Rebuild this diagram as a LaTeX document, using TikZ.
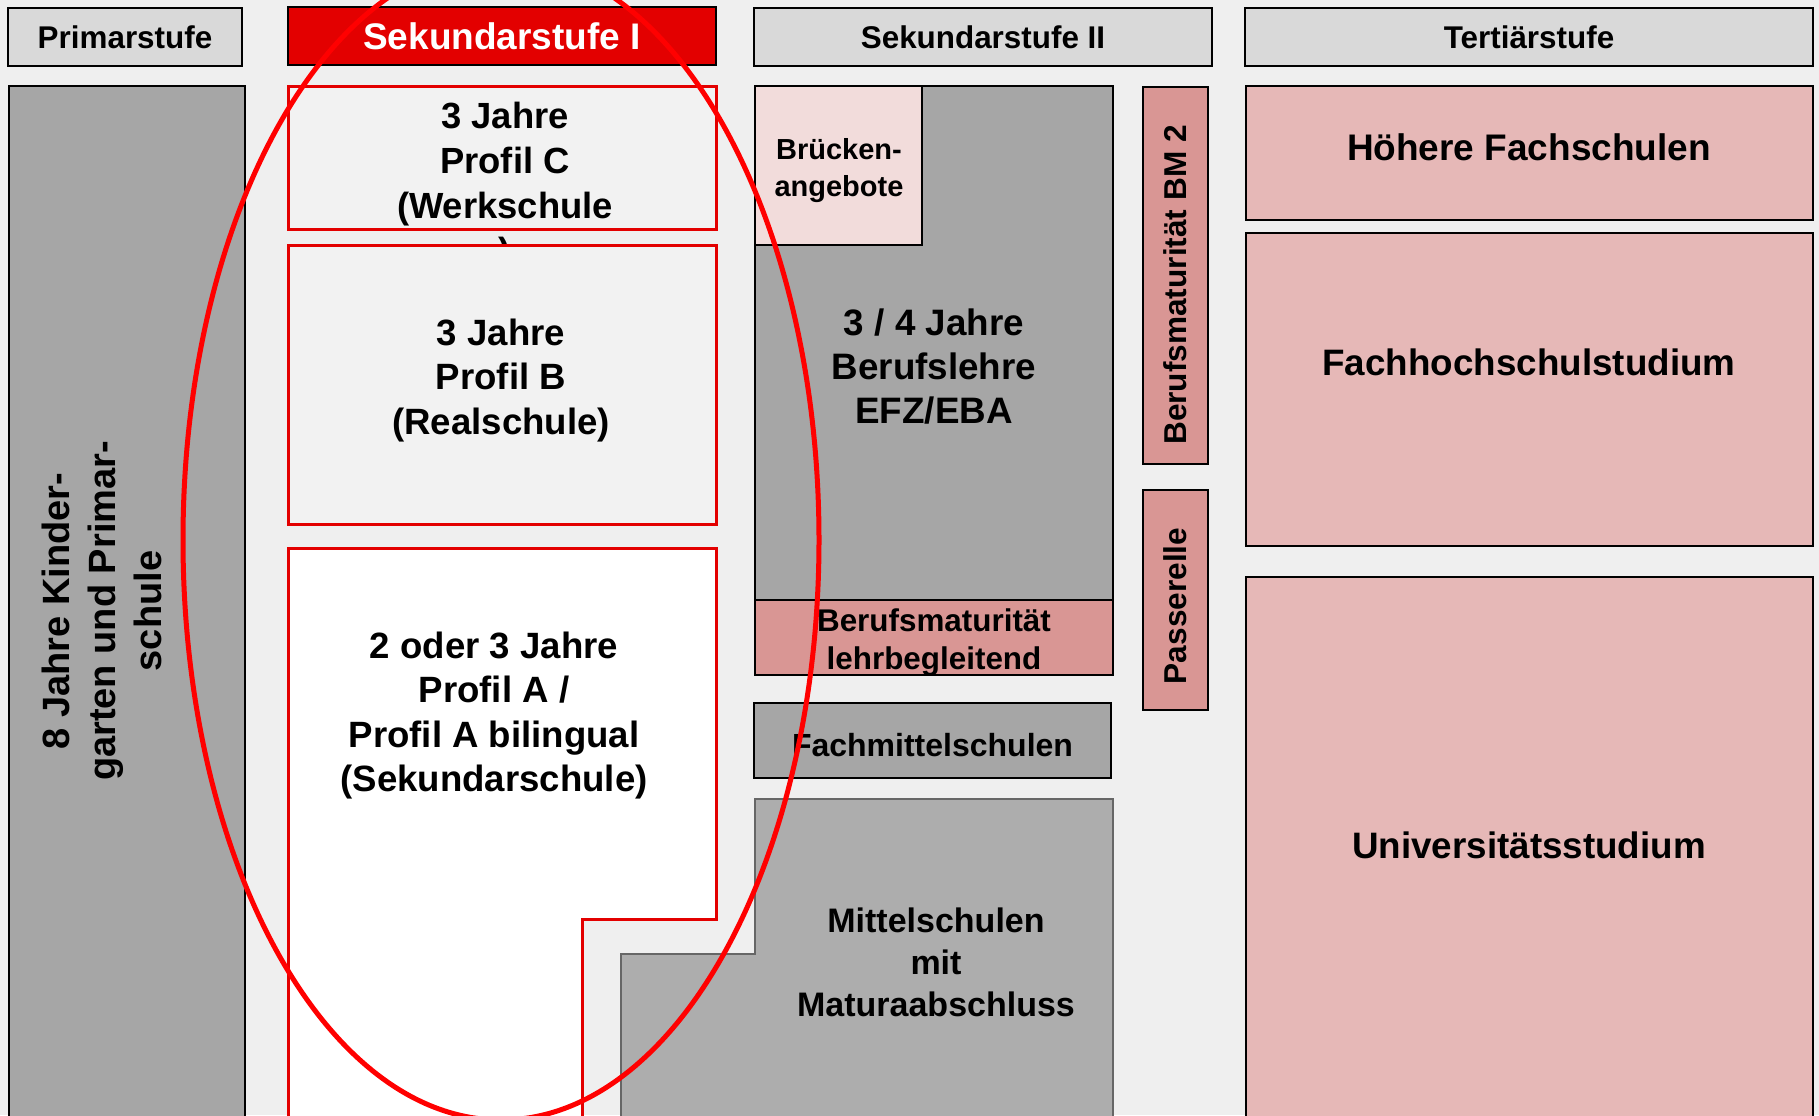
\documentclass[tikz,border=0pt]{standalone}
\usepackage{fontspec}
\setmainfont{Liberation Sans}
\usepackage{tikz}

\definecolor{bgcol}{HTML}{EFEFEF}
\definecolor{headgray}{HTML}{D9D9D9}
\definecolor{sekred}{HTML}{E30000}
\definecolor{darkgray}{HTML}{A6A6A6}
\definecolor{midgray}{HTML}{ADADAD}
\definecolor{lightbox}{HTML}{F2F2F2}
\definecolor{bridgepink}{HTML}{F2DCDB}
\definecolor{bmpink}{HTML}{D99694}
\definecolor{terpink}{HTML}{E6B8B7}

\newcommand{\fsz}[2]{\fontsize{#1}{#2}\selectfont\bfseries}

\begin{document}
\begin{tikzpicture}[x=0.5pt,y=-0.5pt,
	box/.style={draw=black, line width=0.9pt, inner sep=0pt, outer sep=0pt},
	redbox/.style={draw=sekred, line width=1.5pt, inner sep=0pt, outer sep=0pt},
	txt/.style={align=center, inner sep=0pt}]

	\fill[bgcol] (0,0) rectangle (1819,1115);
	\useasboundingbox (0,0) rectangle (1819,1115);

	% headers
	\node[box, fill=headgray, minimum width=117pt, minimum height=29pt, font=\fsz{15.7}{19}] (primar) at (125,37) {Primarstufe};
	\node[box, fill=sekred, text=white, minimum width=214pt, minimum height=29pt, font=\fsz{18.5}{22}] (sekone) at (502,36) {Sekundarstufe I};
	\node[box, fill=headgray, minimum width=229pt, minimum height=29pt, font=\fsz{15.7}{19}] (sektwo) at (983,37) {Sekundarstufe II};
	\node[box, fill=headgray, minimum width=284pt, minimum height=29pt, font=\fsz{15.7}{19}] (tertiaer) at (1529,37) {Tertiärstufe};

	% primarstufe
	\node[box, fill=darkgray, minimum width=118pt, minimum height=522pt] (primbox) at (127,608) {};
	\node[txt, rotate=90, font=\fsz{19}{23}] (primtxt) at (102,611) {8 Jahre Kinder-\\garten und Primar-\\schule};

	% sekundarstufe I
	\node[redbox, fill=lightbox, minimum width=214pt, minimum height=71.5pt] (profc) at (502,157.5) {};
	\node[txt, font=\fsz{18.2}{22.5}] (profctxt) at (505,186.5) {3 Jahre\\Profil C\\(Werkschule\\)};
	\node[redbox, fill=lightbox, minimum width=214pt, minimum height=139.5pt] (profb) at (502,384.5) {};
	\node[txt, font=\fsz{18.3}{22.3}] (profbtxt) at (501,380.5) {3 Jahre\\Profil B\\(Realschule)};
	\draw[sekred, line width=1.5pt, fill=white] (288,1125) -- (288,548) -- (716,548) -- (716,919) -- (582,919) -- (582,1125);
	\node[txt, font=\fsz{18.3}{22.3}] (profatxt) at (494,715.5) {2 oder 3 Jahre\\Profil A /\\Profil A bilingual\\(Sekundarschule)};

	% sekundarstufe II
	\node[box, fill=darkgray, minimum width=179pt, minimum height=257pt] (lehre) at (934,343) {};
	\node[txt, font=\fsz{18.4}{22}] (lehretxt) at (934,367) {3 / 4 Jahre\\Berufslehre\\EFZ/EBA};
	\node[box, fill=bridgepink, minimum width=83.5pt, minimum height=79.5pt] (bruecke) at (838.5,165.5) {};
	\node[txt, font=\fsz{14.5}{18.5}] (bruecketxt) at (839,171) {Brücken-\\angebote};
	\node[box, fill=bmpink, minimum width=179pt, minimum height=37.5pt] (bmlehr) at (934,637.5) {};
	\node[txt, font=\fsz{15.7}{19}] (bmlehrtxt) at (934,642.5) {Berufsmaturität\\lehrbegleitend};
	\node[box, fill=darkgray, minimum width=178.5pt, minimum height=37.5pt] (fms) at (932.5,740.5) {};
	\node[txt, font=\fsz{16}{19}] (fmstxt) at (932.5,745.5) {Fachmittelschulen};
	\draw[draw=black!60, line width=1.3pt, fill=midgray] (621,1125) -- (621,954) -- (755,954) -- (755,799) -- (1113,799) -- (1113,1125);
	\node[txt, font=\fsz{17}{21}] (mittel) at (936,962) {Mittelschulen\\mit\\Maturaabschluss};

	\node[box, fill=bmpink, minimum width=32.5pt, minimum height=188.5pt] (bmtwo) at (1175.5,275.5) {};
	\node[txt, rotate=90, font=\fsz{15.8}{19}] (bmtwotxt) at (1175,285) {Berufsmaturität BM 2};
	\node[box, fill=bmpink, minimum width=32.5pt, minimum height=110pt] (passer) at (1175.5,600) {};
	\node[txt, rotate=90, font=\fsz{15.8}{19}] (passertxt) at (1175,606) {Passerelle};

	% tertiaerstufe
	\node[box, fill=terpink, minimum width=283.5pt, minimum height=67pt] (hfs) at (1529.5,153) {};
	\node[txt, font=\fsz{18.5}{22}] (hfstxt) at (1529,147) {Höhere Fachschulen};
	\node[box, fill=terpink, minimum width=283.5pt, minimum height=156.5pt] (fh) at (1529.5,389.5) {};
	\node[txt, font=\fsz{18.4}{22}] (fhtxt) at (1529,362) {Fachhochschulstudium};
	\node[box, fill=terpink, minimum width=283.5pt, minimum height=274.5pt] (uni) at (1529.5,851.5) {};
	\node[txt, font=\fsz{18.4}{22}] (unitxt) at (1529,845) {Universitätsstudium};

	% ellipse
	\draw[red, line width=2.5pt] (501,540) ellipse [x radius=159pt, y radius=290pt];

\end{tikzpicture}
\end{document}
